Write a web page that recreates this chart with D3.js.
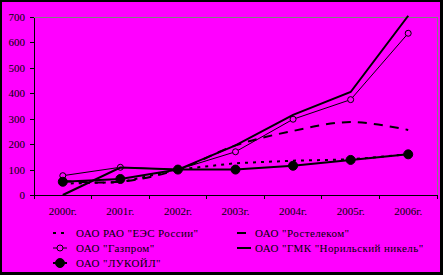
<!DOCTYPE html>
<html><head><meta charset="utf-8">
<script src="https://cdn.jsdelivr.net/npm/d3@7"></script>
<style>body{margin:0;padding:0;background:#f0f;} svg{display:block;} text{font-family:"Liberation Serif","Times New Roman",serif;}</style>
</head><body>
<svg id="c" width="443" height="275"></svg>
<script>
const years = ["2000г.","2001г.","2002г.","2003г.","2004г.","2005г.","2006г."];
const yTicks = [0,100,200,300,400,500,600,700];
const eesName = "ОАО РАО \"ЕЭС России\"";
const rosName = "ОАО \"Ростелеком\"";
const gazName = "ОАО \"Газпром\"";
const norName = "ОАО \"ГМК \"Норильский никель\"";
const lukName = "ОАО \"ЛУКОЙЛ\"";
const eesValues = [45, 50, 100, 125, 135, 140, 160];
const rosValues = [55, 52, 100, 195, 252, 287, 256];
const gazValues = [76, 109, 100, 170, 298, 375, 636];
const norValues = [0, 108, 100, 195, 315, 405, 705];
const lukValues = [52, 63, 100, 100, 115, 138, 160];

const series = [
  {name: eesName, values: eesValues, width: 2, dash: "3,5", curve: d3.curveLinear, marker: null, col: 0, row: 0},
  {name: rosName, values: rosValues, width: 2, dash: "9,7", curve: d3.curveCatmullRom.alpha(0.5), marker: null, col: 1, row: 0},
  {name: gazName, values: gazValues, width: 1, dash: null, curve: d3.curveLinear, marker: "open", col: 0, row: 1},
  {name: norName, values: norValues, width: 2, dash: null, curve: d3.curveLinear, marker: null, col: 1, row: 1},
  {name: lukName, values: lukValues, width: 2, dash: null, curve: d3.curveLinear, marker: "filled", col: 0, row: 2}
];

const FS = "11px";
const svg = d3.select("#c");
svg.append("rect").attr("x",0).attr("y",0).attr("width",443).attr("height",275).attr("fill","#000");
svg.append("rect").attr("x",2).attr("y",2).attr("width",438).attr("height",270).attr("fill","#ff00ff");

const L = 34, R = 437, T = 17, B = 195;
const x = d3.scaleBand().domain(years).range([L, R]);
const y = d3.scaleLinear().domain([0, 700]).range([B, T]);

svg.append("path").attr("d", `M${L},${T}H${R}V${B}`).attr("fill","none").attr("stroke","#808080").attr("stroke-width",1).attr("shape-rendering","crispEdges");

const ya = svg.append("g").attr("transform",`translate(${L},0)`)
  .call(d3.axisLeft(y).tickValues(yTicks).tickSize(4).tickPadding(5).tickSizeOuter(0));
ya.selectAll("path,line").attr("stroke","#000").attr("shape-rendering","crispEdges");
ya.selectAll("text").attr("font-size",FS).attr("fill","#000").style("font-family","Liberation Serif");

const xa = svg.append("g").attr("transform",`translate(0,${B})`)
  .call(d3.axisBottom(x).tickSize(0).tickPadding(12).tickSizeOuter(0));
xa.select("path").attr("stroke","#000").attr("shape-rendering","crispEdges");
xa.selectAll("text").attr("font-size",FS).attr("fill","#000").style("font-family","Liberation Serif");
const bounds = years.map(d => x(d)).concat([x.range()[1]]);
svg.append("g").selectAll("line").data(bounds).join("line")
  .attr("x1", d => d).attr("x2", d => d).attr("y1", B).attr("y2", B + 4)
  .attr("stroke","#000").attr("shape-rendering","crispEdges");

const cx = d => x(d) + x.bandwidth() / 2;

series.forEach(s => {
  const line = d3.line().x((v,i) => cx(years[i])).y(v => y(v)).curve(s.curve);
  svg.append("path").attr("d", line(s.values)).attr("fill","none").attr("stroke","#000")
    .attr("stroke-width", s.width).attr("stroke-dasharray", s.dash);
  if (s.marker) {
    svg.append("g").selectAll("circle").data(s.values).join("circle")
      .attr("cx", (v,i) => cx(years[i])).attr("cy", v => y(v))
      .attr("r", s.marker === "filled" ? 4.5 : 3)
      .attr("fill", s.marker === "filled" ? "#000" : "#ff00ff")
      .attr("stroke","#000").attr("stroke-width",1);
  }
});

const colX = [53, 237];
const colW = [14, 14];
const rowY = [233, 248, 263];
const leg = svg.append("g");
series.forEach(s => {
  const x0 = colX[s.col], yy = rowY[s.row], w = colW[s.col];
  const g = leg.append("g");
  g.append("line").attr("x1", x0).attr("x2", x0 + w).attr("y1", yy).attr("y2", yy)
    .attr("stroke","#000").attr("stroke-width", s.width).attr("stroke-dasharray", s.dash);
  if (s.marker) {
    g.append("circle").attr("cx", x0 + w/2).attr("cy", yy)
      .attr("r", s.marker === "filled" ? 4.5 : 3)
      .attr("fill", s.marker === "filled" ? "#000" : "#ff00ff")
      .attr("stroke","#000");
  }
  g.append("text").attr("x", s.col === 0 ? 76 : 255).attr("y", yy).attr("dy","0.35em")
    .attr("font-size",FS).attr("letter-spacing","0.4px").attr("fill","#000").text(s.name);
});
</script>
</body></html>
